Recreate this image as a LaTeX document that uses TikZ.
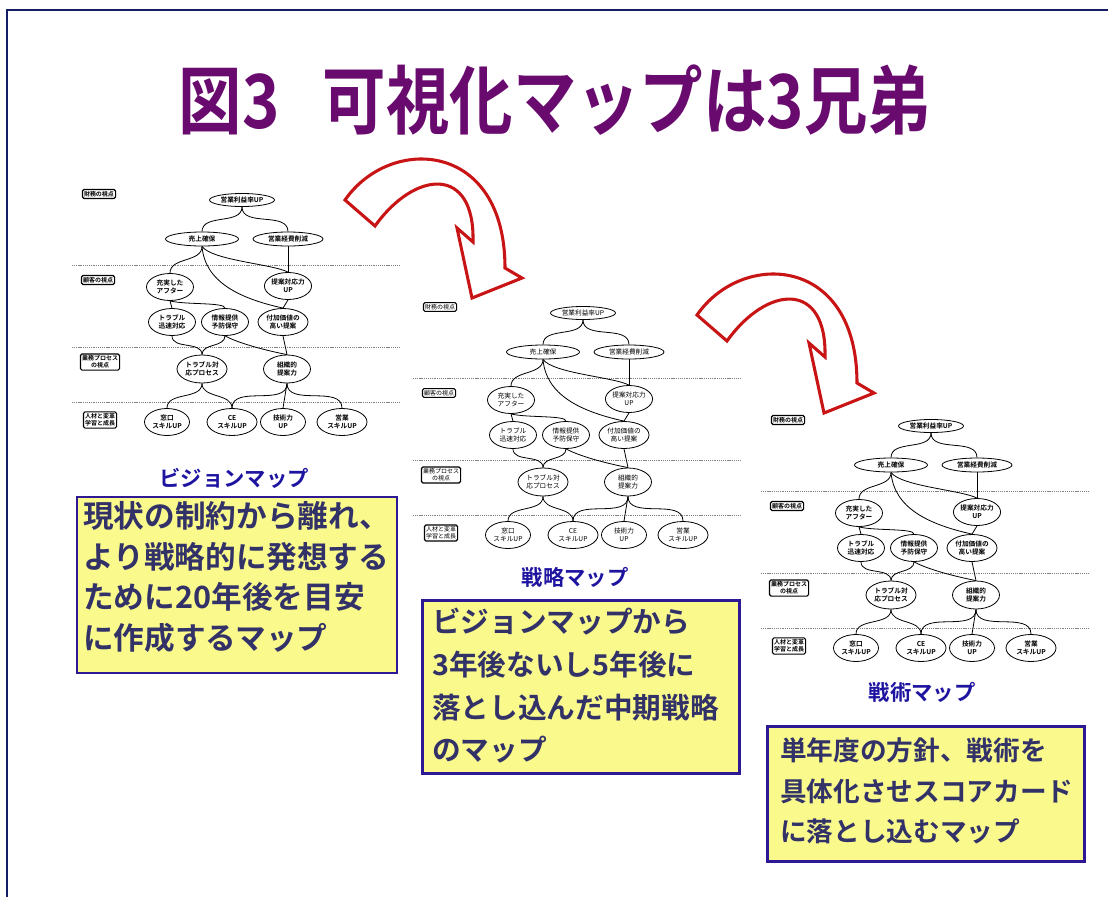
\documentclass[tikz,border=0pt]{standalone}
\usepackage{fontspec}
\newfontfamily\jp{Noto Sans CJK JP}[BoldFont={Noto Sans CJK JP Bold}]
\usetikzlibrary{shapes.geometric,backgrounds}
\definecolor{titlepurple}{RGB}{105,10,110}
\definecolor{framenavy}{RGB}{20,30,100}
\definecolor{lblblue}{RGB}{30,20,160}
\definecolor{boxborder}{RGB}{45,25,150}
\definecolor{boxfill}{RGB}{250,250,140}
\definecolor{boxtext}{RGB}{50,50,105}
\definecolor{arrowred}{RGB}{200,20,20}
\tikzset{
  ov/.style 2 args={ellipse, draw, line width=0.6pt, fill=white, inner sep=0pt,
    minimum width=#1*0.75pt, minimum height=#2*0.75pt, align=center, font=\mapfont},
  lab/.style={draw, rounded corners=1.2pt, line width=0.9pt, fill=white, inner sep=1.2pt,
    align=center, font=\labfont},
  sep/.style={gray, line width=0.7pt, dash pattern=on 0.8pt off 0.6pt},
  con/.style={line width=0.6pt},
  yelbox/.style={draw=boxborder, line width=2pt, fill=boxfill},
  boxtxt/.style={anchor=west, align=left, text=boxtext, inner sep=0pt},
  maplabel/.style={text=lblblue, font=\jp\bfseries\fontsize{16}{18}\selectfont},
  bigarrow/.style={draw=arrowred, line width=2.3pt, fill=white, line join=miter}
}
\newcommand\mapfont{\jp\fontsize{5}{6}\selectfont}
\newcommand\labfont{\jp\fontsize{4.5}{5.5}\selectfont}
\newcommand\minimap[4]{%
\begin{scope}[shift={(#2,#3)}]
 \renewcommand\mapfont{\jp#4\fontsize{5}{6}\selectfont}%
 \renewcommand\labfont{\jp#4\fontsize{4.5}{5.5}\selectfont}%
 \node[lab] (#1L1) at (99,194) {財務の視点};
 \node[lab] (#1L2) at (98,280) {顧客の視点};
 \node[lab] (#1L3) at (100,362) {業務プロセス\\の視点};
 \node[lab] (#1L4) at (100,420) {人材と変革\\学習と成長};
 \node[ov={65}{13}] (#1n1) at (242,200) {営業利益率UP};
 \node[ov={73}{14}] (#1n2) at (202,239) {売上確保};
 \node[ov={70}{14}] (#1n3) at (288,239) {営業経費削減};
 \node[ov={47}{27}] (#1n4) at (170,287) {充実した\\アフター};
 \node[ov={47}{27}] (#1n5) at (288,286) {提案対応力\\UP};
 \node[ov={47}{27}] (#1n6) at (172,322) {トラブル\\迅速対応};
 \node[ov={47}{27}] (#1n7) at (225,322) {情報提供\\予防保守};
 \node[ov={50}{27}] (#1n8) at (283,322) {付加価値の\\高い提案};
 \node[ov={50}{28}] (#1n9) at (202,369) {トラブル対\\応プロセス};
 \node[ov={47}{28}] (#1n10) at (287,369) {組織的\\提案力};
 \node[ov={45}{27}] (#1n11) at (167,422) {窓口\\スキルUP};
 \node[ov={50}{27}] (#1n12) at (232,422) {CE\\スキルUP};
 \node[ov={45}{27}] (#1n13) at (283,422) {技術力\\UP};
 \node[ov={50}{27}] (#1n14) at (342,422) {営業\\スキルUP};
 \coordinate (#1s1a) at (72,265); \coordinate (#1s1b) at (400,265);
 \coordinate (#1s2a) at (72,347); \coordinate (#1s2b) at (400,347);
 \coordinate (#1s3a) at (72,402); \coordinate (#1s3b) at (400,402);
 \begin{scope}[on background layer]
  \draw[sep] (#1s1a) -- (#1s1b);
  \draw[sep] (#1s2a) -- (#1s2b);
  \draw[sep] (#1s3a) -- (#1s3b);
  \draw[con] (#1n1.south) to[out=-90,in=90] (#1n2.north);
  \draw[con] (#1n1.south) to[out=-90,in=90] (#1n3.north);
  \draw[con] (#1n2.south) to[out=-90,in=90] (#1n4.north);
  \draw[con] (#1n3.south) -- (#1n5.north);
  \draw[con] (#1n2.south) .. controls +(10,14) and +(-15,-8) .. (#1n5.north);
  \draw[con] (#1n2.south) .. controls +(3,35) and +(-45,-10) .. (#1n8.north);
  \draw[con] (#1n5.south) -- (#1n8.north);
  \draw[con] (#1n4.south) -- (#1n6.north);
  \draw[con] (#1n4.south) .. controls +(15,4) and +(0,-6) .. (#1n7.north);
  \draw[con] (#1n6.south) to[out=-90,in=90] (#1n9.north);
  \draw[con] (#1n7.south) to[out=-90,in=90] (#1n9.north);
  \draw[con] (#1n7.south) .. controls +(15,8) and +(-20,-4) .. (#1n10.north);
  \draw[con] (#1n8.south) -- (#1n10.north);
  \draw[con] (#1n9.south) to[out=-90,in=90] (#1n11.north);
  \draw[con] (#1n9.south) to[out=-90,in=90] (#1n12.north);
  \draw[con] (#1n10.south) to[out=-90,in=90] (#1n12.north);
  \draw[con] (#1n10.south) -- (#1n13.north);
  \draw[con] (#1n10.south) to[out=-90,in=90] (#1n14.north);
 \end{scope}
\end{scope}}
\newcommand\curvedarrow[2]{%
\begin{scope}[shift={(#1,#2)}]
 \draw[bigarrow] (345,200) .. controls (390,135) and (505,140) .. (505,268)
   -- (522,278) -- (472,298) -- (457,228) -- (473,242)
   .. controls (475,165) and (415,170) .. (375,226) -- cycle;
\end{scope}}
\begin{document}
\begin{tikzpicture}[x=0.75pt,y=-0.75pt]
\useasboundingbox (0,0) rectangle (1108,897);
\coordinate (fr1) at (7,897); \coordinate (fr2) at (7,10); \coordinate (fr3) at (1108,10);
\draw[framenavy, line width=1.5pt] (fr1) -- (fr2) -- (fr3);
\node[text=titlepurple, xscale=0.85, font=\jp\bfseries\fontsize{56}{60}\selectfont] (title) at (555,100) {図3\hspace{38pt}可視化マップは3兄弟};
\curvedarrow{0}{0}
\curvedarrow{352}{115}
\minimap{a}{0}{0}{\bfseries}
\minimap{b}{341}{113}{}
\minimap{c}{689}{226}{\bfseries}
% Vision map
\node[maplabel] (lab1) at (234,478) {ビジョンマップ};
\node[yelbox, minimum width=320*0.75pt, minimum height=176*0.75pt] (box1) at (237,585) {};
\node[boxtxt, font=\jp\bfseries\fontsize{23}{30.5}\selectfont] (txt1) at (83,577) {現状の制約から離れ、\\より戦略的に発想する\\ために20年後を目安\\に作成するマップ};
% Strategy map
\node[maplabel] (lab2) at (575,577) {戦略マップ};
\node[yelbox, minimum width=317*0.75pt, minimum height=173*0.75pt] (box2) at (581,687) {};
\node[boxtxt, font=\jp\bfseries\fontsize{21.5}{32}\selectfont] (txt2) at (432,686) {ビジョンマップから\\3年後ないし5年後に\\落とし込んだ中期戦略\\のマップ};
% Tactics map
\node[maplabel] (lab3) at (922,692) {戦術マップ};
\node[yelbox, minimum width=317*0.75pt, minimum height=135*0.75pt] (box3) at (926,794) {};
\node[boxtxt, font=\jp\bfseries\fontsize{20}{30.5}\selectfont] (txt3) at (780,791) {単年度の方針、戦術を\\具体化させスコアカード\\に落とし込むマップ};
\end{tikzpicture}
\end{document}
